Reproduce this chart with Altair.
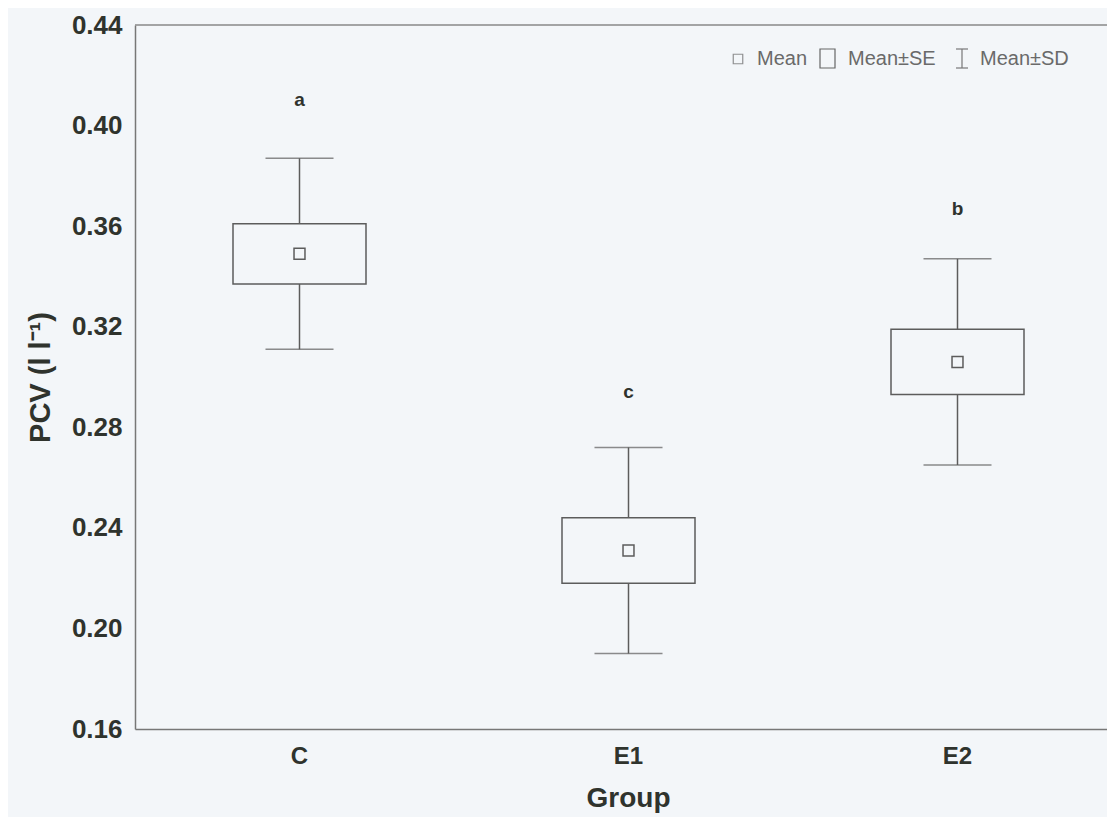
import altair as alt
import pandas as pd

groups = ["C", "E1", "E2"]
means = [0.349, 0.231, 0.306]
se_lo = [0.337, 0.218, 0.293]
se_hi = [0.361, 0.244, 0.319]
sd_lo = [0.311, 0.190, 0.265]
sd_hi = [0.387, 0.272, 0.347]
letters = ["a", "c", "b"]
letter_y = [0.410, 0.294, 0.367]
y_ticks = [0.16, 0.20, 0.24, 0.28, 0.32, 0.36, 0.40, 0.44]

BG = "#f3f6f9"
LINE = "#5c5c5c"
TXT = "#2f332d"
FONT = "Liberation Sans"

df = pd.DataFrame({
    "group": groups, "mean": means, "se_lo": se_lo, "se_hi": se_hi,
    "sd_lo": sd_lo, "sd_hi": sd_hi, "letter": letters, "letter_y": letter_y,
})

W, H = 972, 704

xscale = alt.Scale(domain=groups, range=[0, 987], paddingInner=0, paddingOuter=0)
yscale = alt.Scale(domain=[0.16, 0.44], nice=False, zero=False)

xenc = alt.X("group:N", scale=xscale, sort=groups, title="Group",
             axis=alt.Axis(labelAngle=0, ticks=False, labelFontSize=24, labelFont=FONT,
                           labelFontWeight="bold", labelColor=TXT, labelPadding=15,
                           titleFontSize=28, titleFont=FONT, titleFontWeight="bold",
                           titleColor=TXT, titleX=493, titleY=77, titleBaseline="alphabetic",
                           domainColor="#777", domainWidth=1.5, grid=False))
yaxis = alt.Axis(values=y_ticks, format=".2f", ticks=False, labelFontSize=26, labelFont=FONT,
                 labelFontWeight="bold", labelColor=TXT, labelPadding=13,
                 title="PCV (l l⁻¹)", titleFontSize=29, titleFont=FONT, titleFontWeight="bold",
                 titleColor=TXT, titleX=-95, titleY=352, titleAngle=270,
                 titleAlign="center", titleBaseline="middle",
                 domainColor="#777", domainWidth=1.5, grid=False)

base = alt.Chart(df)

whisk = base.mark_rule(color=LINE, strokeWidth=1.5).encode(
    x=xenc, y=alt.Y("sd_lo:Q", scale=yscale, axis=yaxis), y2="sd_hi:Q")
caps_hi = base.mark_tick(color=LINE, size=68, thickness=1.5).encode(
    x=alt.X("group:N", scale=xscale, sort=groups), y=alt.Y("sd_hi:Q", scale=yscale))
caps_lo = base.mark_tick(color=LINE, size=68, thickness=1.5).encode(
    x=alt.X("group:N", scale=xscale, sort=groups), y=alt.Y("sd_lo:Q", scale=yscale))
box = base.mark_bar(size=133, fill=BG, stroke=LINE, strokeWidth=1.5).encode(
    x=alt.X("group:N", scale=xscale, sort=groups), y=alt.Y("se_lo:Q", scale=yscale), y2="se_hi:Q")
mean_pt = base.mark_point(shape="square", size=120, filled=False, color=LINE, strokeWidth=1.5, opacity=1).encode(
    x=alt.X("group:N", scale=xscale, sort=groups), y=alt.Y("mean:Q", scale=yscale))
lett = base.mark_text(fontSize=19, fontWeight="bold", font=FONT, color=TXT).encode(
    x=alt.X("group:N", scale=xscale, sort=groups), y=alt.Y("letter_y:Q", scale=yscale), text="letter:N")

# top frame line
top = alt.Chart(pd.DataFrame({"k": [0]})).mark_rule(color="#888", strokeWidth=1.5).encode(
    x=alt.value(0), x2=alt.value(987), y=alt.value(0))

# legend (top-right)
leg_df = pd.DataFrame({"k": [0]})
leg = alt.Chart(leg_df)
lg_sq = leg.mark_point(shape="square", size=90, filled=False, color="#666", strokeWidth=1.2).encode(
    x=alt.value(603), y=alt.value(34))
lg_box = leg.mark_rect(fill=BG, stroke="#666", strokeWidth=1.2).encode(
    x=alt.value(685), x2=alt.value(700), y=alt.value(24), y2=alt.value(43))
lg_i = leg.mark_rule(color="#777", strokeWidth=1.2).encode(
    x=alt.value(827), y=alt.value(24), y2=alt.value(43))
lg_i1 = leg.mark_rule(color="#777", strokeWidth=1.2).encode(
    x=alt.value(821), x2=alt.value(833), y=alt.value(24))
lg_i2 = leg.mark_rule(color="#777", strokeWidth=1.2).encode(
    x=alt.value(821), x2=alt.value(833), y=alt.value(43))
legend_labels = ["Mean", "Mean±SE", "Mean±SD"]
legend_x = [622, 713, 845]
lg_txt = alt.Chart(pd.DataFrame({"t": legend_labels, "px": legend_x})).mark_text(
    align="left", baseline="middle", fontSize=20, font=FONT, color="#6a6a6a").encode(
    x=alt.X("px:Q", scale=None), y=alt.value(34), text="t:N")

chart = alt.layer(whisk, caps_hi, caps_lo, box, mean_pt, lett, top,
                  lg_sq, lg_box, lg_i, lg_i1, lg_i2, lg_txt).properties(
    width=W, height=H,
    autosize=alt.AutoSizeParams(type="none"),
    padding={"left": 127, "top": 17, "right": 0, "bottom": 88},
    background=BG,
).configure_view(stroke=None, fill=BG)

chart.save("out.html", embed_options={"renderer": "svg", "actions": False})
